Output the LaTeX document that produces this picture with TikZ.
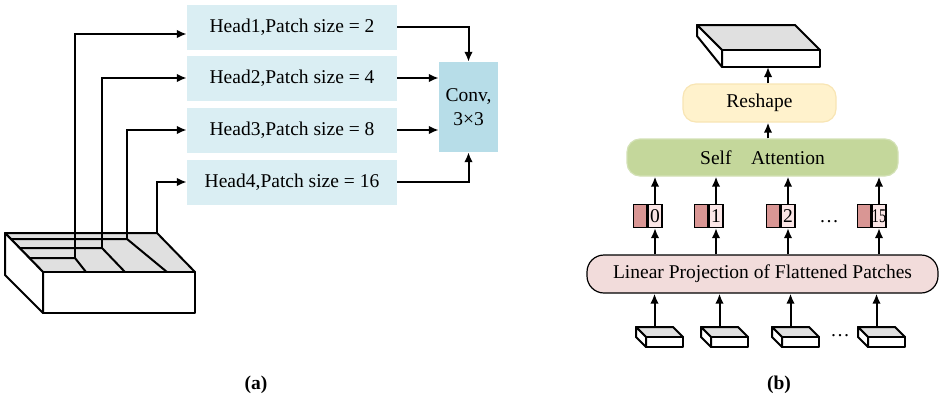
\documentclass[tikz,border=0pt]{standalone}
\usepackage{fontspec}
\setmainfont{Liberation Serif}
\usepackage{graphicx}
\usetikzlibrary{calc,arrows.meta}
\definecolor{headblue}{HTML}{DAEEF3}
\definecolor{convblue}{HTML}{B7DDE8}
\definecolor{reshapefill}{HTML}{FFF2CC}
\definecolor{reshapeline}{HTML}{F8E5B4}
\definecolor{attnfill}{HTML}{C4D79B}
\definecolor{attnline}{HTML}{D3E1B5}
\definecolor{projfill}{HTML}{F2DCDB}
\definecolor{tokdark}{HTML}{D99694}
\definecolor{toklight}{HTML}{FBE6E6}
\definecolor{facegray}{HTML}{E0E0E0}

\begin{document}
\begin{tikzpicture}[x=1pt, y=-1pt,
        every node/.style={font=\fontsize{19.5}{24}\selectfont},
        head/.style={
          fill=headblue, inner sep=0pt,
          minimum width=210pt, minimum height=45pt,
        },
        conv/.style={
          fill=convblue, inner sep=0pt, align=center,
          minimum width=59pt, minimum height=90pt,
        },
        soft/.style={
          rounded corners=13pt, inner sep=0pt,
          minimum height=37pt, line width=1.2pt,
        },
        tokd/.style={
          draw, line width=1.2pt, fill=tokdark, inner sep=0pt,
          minimum width=13pt, minimum height=23pt,
        },
        tokl/.style={tokd, fill=toklight, minimum width=14pt},
        arr/.style={-{Latex[length=10pt,width=8.5pt]}, line width=2pt},
        edge/.style={line width=2pt, line join=round},
        face/.style={edge, fill=facegray},
        panel/.style={font=\fontsize{19.5}{24}\selectfont\bfseries},
      ]
      \useasboundingbox (0,0) rectangle (944,399);

      % (a) heads with different patch sizes
      \node[head] (h1) at (292, 27)  {Head1,Patch size = 2};
      \node[head] (h2) at (292, 78)  {Head2,Patch size = 4};
      \node[head] (h3) at (292,130)  {Head3,Patch size = 8};
      \node[head] (h4) at (292,182)  {Head4,Patch size = 16};
      \node[conv] (cv) at (468.5,107) {Conv,\\3×3};

      % input feature map
      \draw[face] (5,233) -- (157,233) -- (195,272) -- (43,272) -- cycle;
      \draw[edge, fill=white] (43,272) rectangle (195,313);
      \draw[edge, fill=white] (5,233) -- (43,272) -- (43,313) -- (5,275) -- cycle;
      \draw[edge] (29.4,258) -- (75,258) -- (86,272);
      \draw[edge] (19.6,248) -- (102,248) -- (125,272);
      \draw[edge] (10.8,239) -- (127,239) -- (167,272);
      \coordinate (c1) at (75,258);
      \coordinate (c2) at (102,248);
      \coordinate (c3) at (127,239);
      \coordinate (c4) at (157,233);

      \draw[arr] (c1) |- ([yshift=-7pt]h1.west);
      \draw[arr] (c2) |- (h2.west);
      \draw[arr] (c3) |- (h3.west);
      \draw[arr] (c4) |- (h4.west);
      \draw[arr] (h1.east) -| (cv.north);
      \draw[arr] (h2.east) -- (h2.east -| cv.west);
      \draw[arr] (h3.east) -- (h3.east -| cv.west);
      \draw[arr] (h4.east) -| (cv.south);

      % (b) self attention branch
      \draw[face] (697,25) -- (795,25) -- (820,50) -- (722,50) -- cycle;
      \draw[edge, fill=white] (722,50) rectangle (820,67);
      \draw[edge, fill=white] (697,25) -- (722,50) -- (722,67) -- (697,36) -- cycle;
      \coordinate (out) at (768,67);

      \node[soft, fill=reshapefill, draw=reshapeline, minimum width=153pt, minimum height=38pt]
        (rs) at (759.5,103) {Reshape};
      \node[soft, fill=attnfill, draw=attnline, minimum width=271pt]
        (sa) at (762.5,157.5) {Self\quad Attention};
      \node[soft, fill=projfill, draw, rounded corners=17pt, minimum width=351pt, minimum height=38pt]
        (lp) at (762.5,274) {Linear Projection of Flattened Patches};

      \draw[arr] (rs.north -| out) -- (out);
      \draw[arr] (sa.north -| out) -- (rs.south -| out);

      \foreach \x/\n/\lab in {655/0/0, 716/1/1, 788/2/2, 879/3/{\scalebox{.72}[1]{15}}} {
        \node[tokl] (t\n) at (\x,216) {\lab};
        \node[tokd, anchor=east] (d\n) at (t\n.west) {};
        \draw[arr] (t\n.north) -- (t\n.north |- sa.south);
        \draw[arr] (t\n.south |- lp.north) -- (t\n.south);
      }
      \node (dt) at (829,222) {\dots};

      % flattened patches
      \foreach \px/\n in {636/1, 701/2, 772/3, 858/4} {
        \draw[face] (\px,327) -- ++(37,0) -- ++(10,10) -- ++(-37,0) -- cycle;
        \draw[edge, fill=white] (\px+10,337) rectangle ++(37,10);
        \draw[edge, fill=white] (\px,327) -- ++(10,10) -- ++(0,10) -- ++(-10,-10) -- cycle;
        \coordinate (p\n) at (\px+18.5,327);
        \draw[arr] (p\n) -- (p\n |- lp.south);
      }
      \node (dp) at (840,336) {\dots};

      \node[panel] (la) at (256,385) {(a)};
      \node[panel] (lb) at (779,385) {(b)};
    \end{tikzpicture}
\end{document}
